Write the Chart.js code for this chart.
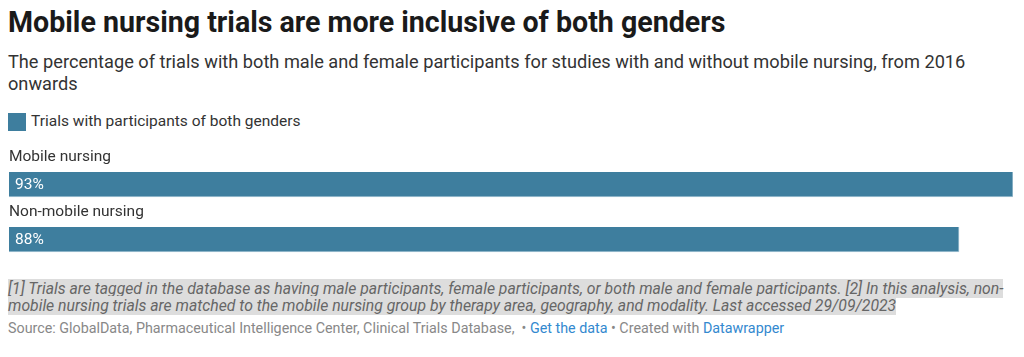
<!DOCTYPE html>
<html><head><meta charset="utf-8">
<script src="https://cdn.jsdelivr.net/npm/chart.js@4"></script>
<style>
html,body{margin:0;padding:0;background:#fff;width:1024px;height:357px;overflow:hidden;font-family:Roboto,"Noto Sans",sans-serif;}
#title{position:absolute;left:8px;top:5px;font-size:28.6px;line-height:34px;font-weight:700;color:#1a1a1a;white-space:nowrap}
#sub{position:absolute;left:8px;top:51px;font-size:18.2px;line-height:22px;color:#333;white-space:nowrap}
#legend{position:absolute;left:8px;top:112px;font-size:15.5px;line-height:19px;color:#333;display:flex;align-items:center}
#legend span.sw{display:inline-block;width:18px;height:18px;margin-right:5px}
#wrap{position:absolute;left:0;top:140px;width:1024px;height:130px}
#notes{position:absolute;left:8px;top:280px;font-size:15.75px;line-height:17px;font-style:italic;color:#666;white-space:nowrap}
#notes span{background:#dddddd}
#src{position:absolute;left:8px;top:319.5px;font-size:14.3px;color:#888;white-space:nowrap}
#src a{color:#3389cf;text-decoration:none}
</style></head>
<body>
<div id="title">Mobile nursing trials are more inclusive of both genders</div>
<div id="sub">The percentage of trials with both male and female participants for studies with and without mobile nursing, from 2016<br>onwards</div>
<div id="legend"><span class="sw" id="sw"></span><span id="legtext"></span></div>
<div id="wrap"><canvas id="c"></canvas></div>
<div id="notes"><span>[1] Trials are tagged in the database as having male participants, female participants, or both male and female participants. [2] In this analysis, non-</span><br><span>mobile nursing trials are matched to the mobile nursing group by therapy area, geography, and modality. Last accessed 29/09/2023</span></div>
<div id="src">Source: GlobalData, Pharmaceutical Intelligence Center, Clinical Trials Database, &nbsp;• <a>Get the data</a> • Created with <a>Datawrapper</a></div>
<script>
const categories = ["Mobile nursing", "Non-mobile nursing"];
const seriesName = "Trials with participants of both genders";
const values = [93, 88];
const barColor = "#3e7e9e";

document.getElementById('sw').style.background = barColor;
document.getElementById('legtext').textContent = seriesName;

const labelPlugin = {
  id: 'labels',
  afterDatasetsDraw(chart) {
    const ctx = chart.ctx;
    const meta = chart.getDatasetMeta(0);
    ctx.save();
    meta.data.forEach((bar, i) => {
      const top = bar.y - bar.height / 2;
      ctx.font = '15.5px Roboto, "Noto Sans", sans-serif';
      ctx.fillStyle = '#333';
      ctx.textBaseline = 'middle';
      ctx.textAlign = 'left';
      ctx.fillText(categories[i], chart.chartArea.left, top - 15);
      ctx.fillStyle = '#fff';
      ctx.fillText(values[i] + '%', bar.base + 6, bar.y + 1);
    });
    ctx.restore();
  }
};

new Chart(document.getElementById('c'), {
  type: 'bar',
  data: {
    labels: categories,
    datasets: [{
      label: seriesName,
      data: values,
      backgroundColor: barColor,
      borderColor: '#a9c7d6',
      borderWidth: {bottom: 1, right: 1, top: 0, left: 0},
      borderSkipped: false,
      barThickness: 25
    }]
  },
  options: {
    indexAxis: 'y',
    responsive: true,
    maintainAspectRatio: false,
    animation: false,
    layout: {padding: {left: 9, right: 11, top: 17, bottom: 3}},
    plugins: {legend: {display: false}, tooltip: {enabled: false}},
    scales: {
      x: {display: false, min: 0, max: 93},
      y: {display: false}
    }
  },
  plugins: [labelPlugin]
});
</script>
</body></html>
